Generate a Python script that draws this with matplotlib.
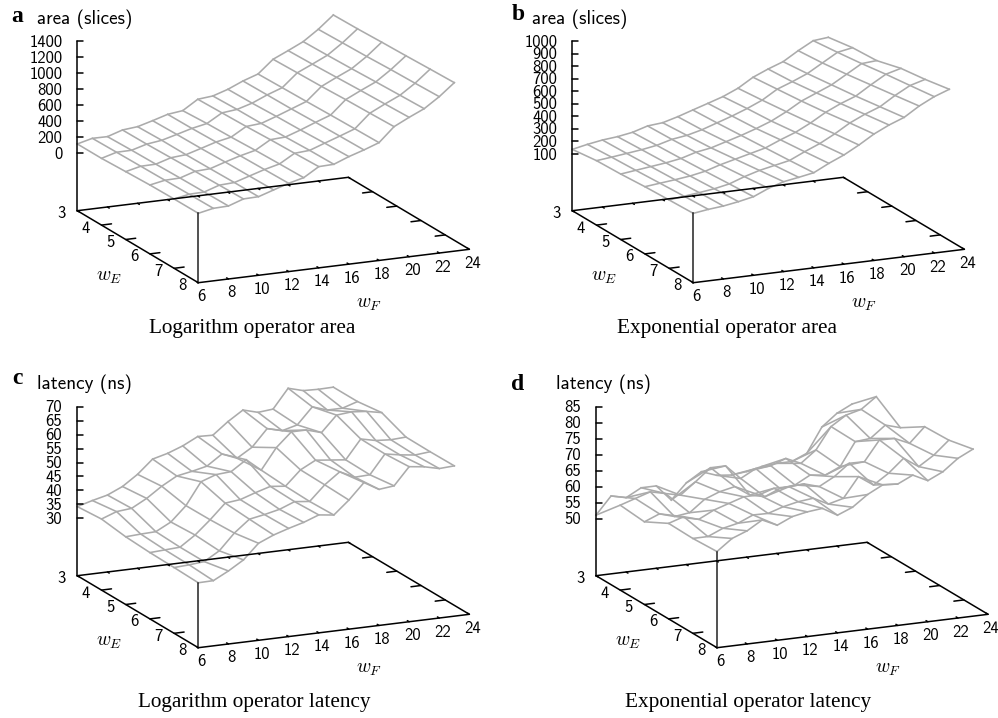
import numpy as np
import matplotlib
matplotlib.use("Agg")
import matplotlib.pyplot as plt

plt.rcParams['mathtext.fontset'] = 'cm'

wf = np.arange(6, 24)
we = np.arange(3, 9)
wf_ticks = [6, 8, 10, 12, 14, 16, 18, 20, 22, 24]
we_ticks = [3, 4, 5, 6, 7, 8]

# rows are wE = 3..8, columns wF = 6..23
log_area = np.array([
    [117, 164, 162, 222, 240, 292, 348, 371, 490, 508, 568, 649, 713, 874, 959, 1048, 1179, 1335],
    [117, 170, 172, 225, 250, 300, 352, 390, 500, 520, 575, 655, 722, 885, 970, 1058, 1190, 1342],
    [131, 175, 178, 235, 250, 305, 362, 400, 510, 525, 590, 660, 730, 895, 985, 1070, 1200, 1355],
    [144, 180, 185, 245, 255, 315, 370, 415, 525, 535, 600, 672, 740, 910, 1000, 1085, 1215, 1365],
    [149, 185, 190, 252, 262, 320, 378, 425, 535, 548, 615, 680, 748, 920, 1012, 1098, 1225, 1378],
    [150, 189, 195, 260, 265, 326, 386, 433, 548, 554, 627, 687, 755, 932, 1025, 1110, 1237, 1389],
])
exp_area = np.array([
    [137, 162, 182, 194, 214, 250, 261, 294, 333, 371, 410, 462, 535, 586, 630, 703, 768, 780],
    [162, 175, 190, 205, 225, 258, 275, 305, 345, 385, 430, 482, 555, 600, 650, 720, 790, 812],
    [170, 185, 200, 215, 235, 270, 290, 325, 360, 400, 445, 505, 575, 625, 675, 745, 815, 824],
    [184, 197, 210, 225, 248, 285, 315, 345, 375, 425, 470, 530, 600, 655, 700, 775, 845, 877],
    [193, 208, 222, 238, 262, 305, 340, 365, 390, 445, 495, 558, 630, 685, 730, 805, 870, 904],
    [201, 218, 230, 250, 275, 327, 365, 385, 407, 467, 519, 584, 657, 714, 760, 836, 896, 940],
])
log_latency = np.array([
    [34.2, 35.7, 37.0, 39.4, 43.1, 47.9, 49.3, 51.3, 54.0, 53.8, 58.0, 61.5, 60.0, 60.5, 67.3, 65.8, 65.6, 65.7],
    [34.9, 36.9, 37.4, 40.3, 44.0, 47.0, 48.0, 49.2, 52.9, 50.7, 54.0, 60.0, 58.6, 60.0, 65.8, 64.0, 64.0, 65.7],
    [33.7, 34.0, 34.2, 37.0, 42.2, 50.1, 52.0, 52.4, 56.0, 51.6, 59.0, 64.0, 64.0, 62.4, 68.0, 68.5, 68.0, 66.9],
    [33.2, 33.5, 33.8, 37.5, 42.3, 47.6, 48.2, 50.0, 51.6, 51.0, 56.2, 59.0, 58.4, 57.8, 64.6, 63.4, 63.0, 63.3],
    [33.0, 33.3, 33.8, 37.0, 42.7, 47.0, 48.0, 49.2, 51.3, 50.7, 56.0, 60.0, 57.4, 57.6, 64.4, 63.4, 62.7, 63.2],
    [32.7, 32.8, 35.6, 38.9, 44.2, 46.5, 48.2, 49.7, 51.7, 51.0, 55.7, 61.3, 58.2, 58.8, 65.0, 64.3, 63.0, 63.3],
])
exp_latency = np.array([
    [51.2, 56.6, 55.5, 58.0, 58.0, 53.0, 57.8, 60.7, 59.0, 58.5, 59.0, 60.0, 60.4, 60.4, 62.4, 70.0, 73.7, 76.0],
    [58.8, 60.3, 61.8, 60.7, 59.6, 63.2, 67.0, 67.0, 62.5, 65.0, 65.3, 67.0, 64.9, 68.5, 75.2, 78.2, 79.4, 82.8],
    [58.1, 60.0, 58.6, 59.2, 62.8, 64.6, 65.6, 62.4, 61.3, 63.3, 63.8, 66.3, 65.7, 67.8, 75.0, 75.4, 79.0, 77.6],
    [62.1, 63.6, 62.2, 64.5, 66.0, 67.5, 67.5, 69.0, 68.9, 69.2, 67.8, 70.3, 73.9, 73.8, 80.0, 79.9, 77.8, 82.4],
    [61.9, 61.9, 63.9, 64.9, 66.9, 66.8, 68.3, 69.3, 69.8, 67.4, 68.6, 74.8, 71.6, 74.7, 78.8, 75.6, 78.6, 82.7],
    [62.3, 65.8, 67.6, 70.4, 68.2, 70.3, 71.2, 71.7, 69.0, 70.9, 74.3, 76.7, 76.4, 78.6, 76.3, 78.5, 82.1, 84.4],
])

area_log_ticks = list(range(0, 1401, 200))
area_exp_ticks = list(range(100, 1001, 100))
lat_log_ticks = list(range(30, 71, 5))
lat_exp_ticks = list(range(50, 86, 5))

# screen vectors of the view, in pixels per unit
dx_wf = (15.06, -1.855)
dx_we = (24.2, 14.4)

fig = plt.figure(figsize=(9.98, 7.18), dpi=100)
ax = fig.add_axes([0, 0, 1, 1])
ax.set_xlim(0, 998)
ax.set_ylim(718, 0)
ax.axis("off")


def panel(z, zticks, ox, oy, ztop_y, zbot_y, letter, letter_pos, zlabel, zlabel_x, title, title_x, title_y):
    zs = (zbot_y - ztop_y) / (zticks[-1] - zticks[0])

    def proj(f, e, v=None):
        x = ox + (f - 6) * dx_wf[0] + (e - 3) * dx_we[0]
        y = oy + (f - 6) * dx_wf[1] + (e - 3) * dx_we[1]
        if v is not None:
            y = y - (oy - zbot_y) - (v - zticks[0]) * zs
        return x, y

    # wire mesh, both directions
    m = dict(color="#ababab", lw=1.15, zorder=2, solid_joinstyle="miter")
    for i, e in enumerate(we):
        ax.plot(*proj(wf, e, z[i]), **m)
    for j, f in enumerate(wf):
        ax.plot(*proj(f, we, z[:, j]), **m)

    # base and verticals
    k = dict(color="black", lw=1.1, zorder=3, solid_capstyle="round")
    corners = [proj(6, 3), proj(6, 8), proj(24, 8), proj(24, 3), proj(6, 3)]
    ax.plot(*zip(*corners), **k)
    ax.plot(*zip(proj(6, 3), (ox, ztop_y)), **k)
    ax.plot(*zip(proj(6, 8), proj(6, 8, z[-1, 0])), color="#222222", lw=1.1, zorder=3)

    for v in zticks:
        y = proj(6, 3, v)[1]
        ax.plot([ox, ox + 6], [y, y], **k)
        ax.text(ox - 15, y + 1, str(v), ha="right", va="center", family="cmss10", fontsize=12)
    for f in wf_ticks:
        for e, sgn in ((8, -1), (3, 1)):
            x, y = proj(f, e)
            ax.plot([x, x + sgn * 1.8], [y, y + sgn * 1.1], **k)
        x, y = proj(f, 8)
        ax.text(x + 3, y + 14, str(f), ha="center", va="center", family="cmss10", fontsize=12)
    for e in we_ticks:
        x, y = proj(6, e)
        if e not in (3, 8):
            ax.plot([x, x + 10], [y, y - 1.25], **k)
            x2, y2 = proj(24, e)
            ax.plot([x2, x2 - 10], [y2, y2 + 1.25], **k)
        ax.text(x - 15.6, y + 3, str(e), ha="center", va="center", family="cmss10", fontsize=12)

    ax.text(ox + 31.7, oy + 66, r"$w_E$", ha="center", va="center", fontsize=14)
    ax.text(ox + 291.7, oy + 93, r"$w_F$", ha="center", va="center", fontsize=14)
    ax.text(letter_pos[0], letter_pos[1], letter, ha="center", va="center",
            family="Liberation Serif", weight="bold", fontsize=17)
    ax.text(zlabel_x, 19 if oy < 300 else 384, zlabel, ha="left", va="center",
            family="cmss10", fontsize=13.8)
    ax.text(title_x, title_y, title, ha="center", va="center",
            family="Liberation Serif", fontsize=15.3)


panel(log_area, area_log_ticks, 77.3, 210.7, 41.3, 153.3, "a", (17, 16),
      "area (slices)", 37, "Logarithm operator area", 252, 328)
panel(exp_area, area_exp_ticks, 572.3, 210.7, 41.3, 154, "b", (518, 15),
      "area (slices)", 532, "Exponential operator area", 727, 328)
panel(log_latency, lat_log_ticks, 77.3, 575.7, 406.7, 518.3, "c", (17, 378),
      "latency (ns)", 37, "Logarithm operator latency", 254, 703)
panel(exp_latency, lat_exp_ticks, 596, 575.7, 406.7, 519, "d", (518, 385),
      "latency (ns)", 556, "Exponential operator latency", 748, 703)

fig.savefig("out.png", dpi=100)
